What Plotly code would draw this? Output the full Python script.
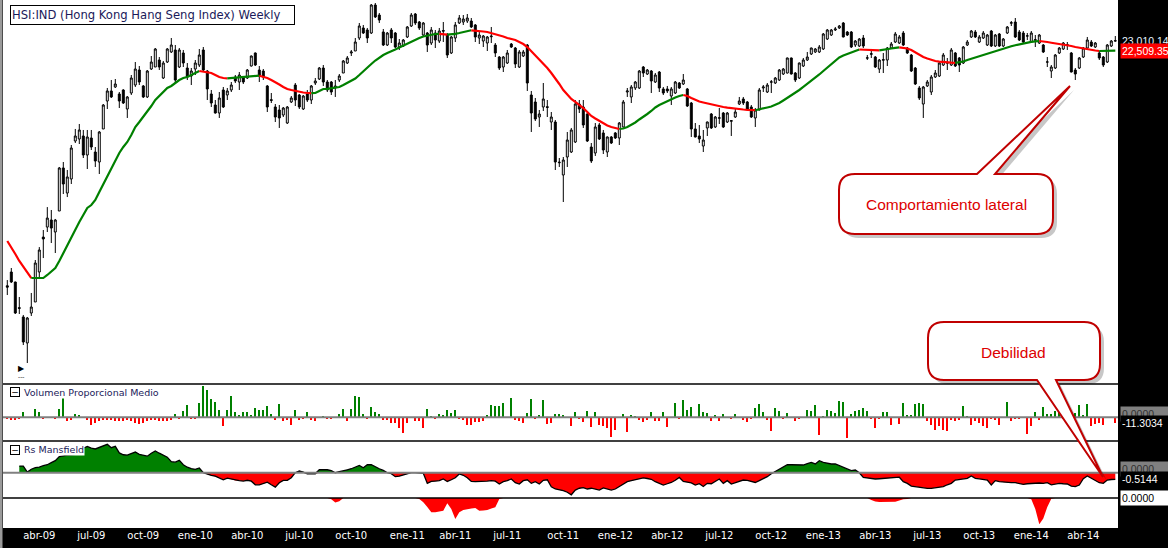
import math
import pandas as pd
import plotly.graph_objects as go
from plotly.subplots import make_subplots

# HSI weekly bars, first bar = week closing 2009-02-06
FIRST_BAR = "2009-02-06"

opens = [
    13420, 13833, 13532, 12790, 12530, 11833, 12640, 12950, 13833, 14938,
    15271, 15510, 15105, 15820, 17390, 16458, 16974, 18453, 18535, 18658,
    17894, 18576, 18012, 17620, 18948, 20151, 20600, 20782, 20464, 20645,
    19799, 20509, 20873, 21573, 20828, 20330, 21621, 21716, 22053, 21197,
    21956, 22445, 22544, 21716, 22396, 21668, 21290, 21621, 21812, 22544,
    21526, 20464, 19974, 19626, 20645, 20419, 20645, 21243, 21011, 21197,
    21197, 21764, 22396, 21573, 21526, 20828, 20210, 19887, 19756, 19540,
    19199, 20107, 20873, 20419, 19799, 20464, 20195, 20965, 21150, 21668,
    21011, 21011, 20736, 21104, 21431, 21908, 22396, 22494, 23147, 23662,
    23558, 23403, 24889, 24348, 23455, 22793, 23558, 23403, 22693, 22743,
    23198, 23766, 24401, 23976, 23300, 23403, 22893, 23403, 22994, 23530,
    23300, 22396, 23147, 23924, 23976, 24029, 24029, 23819, 23147, 22994,
    22893, 23210, 22793, 22199, 21716, 21908, 22843, 22643, 21716, 22248,
    22793, 20419, 20107, 19454, 19887, 19900, 19241, 19241, 17590, 17124,
    17815, 18012, 18413, 20018, 19887, 19583, 18211, 17973, 19115, 18782,
    18012, 18617, 18782, 18576, 19031, 20554, 20330, 20736, 20736, 21716,
    21384, 21526, 21011, 21478, 20691, 20691, 20374, 20509, 20965, 20919,
    20691, 20062, 18948, 18658, 18251, 18990, 19583, 19031, 19400, 19626,
    19241, 19270, 19454, 20018, 20240, 20107, 19887, 19412, 19756, 20736,
    20554, 21000, 20965, 21104, 21384, 21431, 22151, 21431, 21197, 21764,
    22053, 22346, 22445, 22445, 22594, 23096, 23300, 23558, 23662, 23924,
    23455, 23455, 22793, 22743, 23147, 22140, 22330, 22199, 21621, 22040,
    22053, 22643, 22944, 22893, 23403, 22643, 22297, 21668, 20736, 20018,
    20828, 20554, 21243, 21290, 21812, 21900, 21812, 22396, 22151, 21908,
    22793, 23198, 23455, 22944, 23147, 22793, 23506, 22743, 23352, 22743,
    23403, 23910, 23976, 23455, 23403, 23240, 22944, 23030, 22893, 22793,
    21950, 21526, 21668, 22396, 22594, 22780, 22396, 21573, 21668, 22199,
    22643, 22944, 22693, 22396, 22199, 21956, 22743, 22990,
]
highs = [
    13590, 13955, 13540, 13093, 12585, 12530, 13209, 14203, 14613, 15172,
    15957, 15855, 15545, 17428, 17620, 17313, 18292, 18948, 19157, 18906,
    18906, 18906, 18211, 18864, 20018, 20736, 21104, 21150, 20554, 20680,
    20374, 21337, 21956, 21764, 20873, 21573, 22248, 22643, 22199, 22005,
    22643, 23147, 22793, 22643, 22544, 21908, 21668, 22053, 22594, 22693,
    21573, 20645, 20195, 20554, 20782, 20736, 21011, 21337, 21478, 21290,
    21621, 22270, 22420, 21764, 21621, 20873, 20509, 20018, 19974, 19887,
    19930, 20374, 20965, 20464, 20419, 20645, 20873, 21197, 21716, 21812,
    21104, 21058, 21104, 21384, 22053, 22248, 22544, 23147, 23924, 23819,
    23662, 24944, 24999, 24455, 23610, 23455, 23662, 23455, 23096, 23096,
    23766, 24455, 24455, 24029, 23976, 23455, 23714, 23558, 23662, 23976,
    23403, 23249, 23976, 24348, 24348, 24401, 24188, 23871, 23455, 23300,
    23249, 23714, 22893, 22248, 22248, 22544, 22893, 22693, 22544, 22544,
    22843, 20600, 20285, 19756, 20965, 20195, 19669, 19326, 17776, 17815,
    18823, 18990, 20195, 20195, 20195, 19626, 18372, 19199, 19199, 18906,
    18640, 18658, 18823, 19241, 20195, 20736, 20873, 21058, 21573, 21764,
    21621, 21573, 21431, 21526, 20782, 20828, 20782, 21058, 21011, 21384,
    20736, 20107, 19199, 19115, 18906, 19260, 19626, 19497, 19843, 19669,
    19669, 19326, 19843, 20330, 20330, 20151, 19974, 19843, 20736, 20873,
    20965, 21104, 21243, 21621, 21668, 22170, 22170, 21478, 21930, 22151,
    22445, 22660, 22643, 22793, 23403, 23610, 23610, 23714, 23819, 23976,
    23506, 23506, 23045, 23147, 23300, 22297, 22594, 22248, 22102, 22396,
    22693, 22944, 23455, 23300, 23506, 22693, 22346, 21716, 20828, 20828,
    21104, 21337, 21573, 21956, 22396, 22151, 22643, 22445, 22199, 22743,
    23045, 23558, 23558, 23300, 23506, 23352, 23558, 23352, 23403, 23147,
    23766, 24029, 24188, 23558, 23506, 23403, 23506, 23300, 23352, 22843,
    22199, 21812, 22346, 22693, 22944, 22944, 22445, 21668, 22199, 22693,
    23198, 23045, 22944, 22494, 22248, 22843, 23045, 23249,
]
lows = [
    13150, 13503, 12612, 12612, 11780, 11323, 12557, 12950, 13651, 14264,
    15105, 14744, 14423, 15820, 16422, 16313, 16788, 18372, 18332, 17776,
    17351, 18092, 17428, 17161, 18948, 19799, 20285, 20736, 19843, 20018,
    19412, 20419, 20782, 20873, 20285, 20285, 21573, 21716, 21573, 21150,
    21908, 22396, 20965, 21668, 21716, 21104, 20873, 21337, 21716, 21526,
    20195, 19887, 19600, 19412, 19843, 20195, 20554, 20965, 20645, 20919,
    21150, 21740, 21764, 21011, 21104, 19669, 20062, 19241, 18990, 19454,
    19157, 20062, 19930, 19799, 19756, 20107, 20018, 20873, 21104, 20828,
    20554, 20419, 20330, 21011, 21431, 21860, 22248, 22494, 23045, 23352,
    22893, 23352, 24188, 23924, 22743, 22743, 22893, 22643, 22544, 22693,
    23147, 23714, 23819, 23558, 23249, 22445, 22793, 22643, 22893, 22944,
    22151, 22346, 22944, 23871, 23819, 23924, 23662, 22944, 22843, 22693,
    22494, 22893, 22199, 21573, 21478, 21860, 22643, 21668, 21668, 22199,
    20600, 18823, 19284, 19031, 19713, 19454, 18906, 17313, 17428, 16136,
    17428, 17973, 18372, 19626, 18990, 18413, 17582, 17855, 18494, 17933,
    17815, 18332, 18535, 18292, 19010, 20330, 20062, 20645, 20691, 21243,
    21337, 20509, 20965, 20554, 20419, 20509, 19974, 20464, 20691, 20873,
    19887, 18617, 18600, 18372, 18012, 18658, 18948, 18990, 19157, 18990,
    19199, 18658, 19412, 19974, 19974, 19756, 19412, 19031, 19740, 20554,
    20509, 20509, 20919, 21058, 21337, 21410, 21360, 21011, 21150, 21716,
    22005, 22297, 22396, 22396, 22544, 23045, 23249, 23506, 23610, 23180,
    23249, 22643, 22693, 22693, 22643, 22053, 22151, 21668, 21431, 21431,
    21764, 22594, 22893, 22843, 22743, 22346, 21478, 20873, 20195, 19412,
    20782, 20419, 21197, 21243, 21764, 21573, 21764, 21716, 21478, 21860,
    22743, 23147, 23147, 22893, 23096, 22743, 22693, 22693, 22693, 22693,
    23352, 23766, 23147, 22994, 22843, 23045, 22893, 22693, 22843, 22396,
    21716, 21197, 21621, 22346, 22544, 22544, 21460, 21104, 21621, 22151,
    22594, 22693, 22643, 22053, 21716, 21908, 22693, 22960,
]
closes = [
    13380, 13532, 12640, 12770, 11859, 12502, 12807, 14109, 14519, 14875,
    15576, 15237, 15510, 17390, 16788, 17049, 18171, 18658, 18906, 17894,
    18617, 18211, 17659, 18823, 19974, 20600, 20330, 20919, 20151, 20062,
    20330, 21197, 21621, 21011, 20330, 21526, 21956, 22594, 21716, 21908,
    22594, 22793, 21104, 22544, 21908, 21243, 21526, 21908, 22297, 21573,
    20691, 20062, 19626, 20285, 19887, 20600, 20873, 21058, 21337, 21011,
    21573, 22248, 21812, 21290, 21243, 19887, 20180, 19454, 19412, 19843,
    19887, 20285, 20195, 19887, 20374, 20195, 20828, 21058, 21668, 21011,
    20645, 20554, 20828, 21290, 22005, 22151, 22445, 22944, 23766, 23403,
    23147, 24889, 24241, 24082, 22793, 23403, 23147, 22693, 22893, 23045,
    23714, 24348, 23924, 23662, 23924, 22793, 23558, 23045, 23506, 23500,
    22297, 23198, 23819, 24188, 24135, 24188, 23714, 23198, 23300, 23249,
    23198, 23240, 22396, 21668, 22199, 22396, 22693, 21860, 22445, 22445,
    20965, 19626, 19369, 19583, 20240, 19870, 19454, 17620, 17610, 17698,
    18494, 18906, 20018, 19799, 19115, 18453, 17659, 19031, 18535, 18092,
    18617, 18372, 18576, 19199, 20107, 20600, 20782, 21011, 21526, 21431,
    21573, 21058, 21337, 20736, 20509, 20600, 20691, 21011, 20736, 21104,
    19930, 18948, 18617, 18535, 18494, 19241, 18990, 19454, 19420, 19031,
    19626, 19300, 19669, 20151, 20062, 19799, 19454, 19756, 20645, 20782,
    20873, 21020, 21197, 21573, 21621, 22151, 21384, 21104, 21908, 22053,
    22199, 22643, 22594, 22693, 23352, 23558, 23558, 23610, 23766, 23198,
    23300, 22693, 22994, 23096, 22743, 22160, 22360, 21716, 22053, 22070,
    22643, 22843, 23352, 23198, 22793, 22396, 21526, 20919, 20285, 20782,
    21011, 21243, 21431, 21908, 22297, 21920, 22544, 21764, 21812, 22693,
    22944, 23506, 23198, 23198, 23403, 23300, 22743, 23300, 22743, 23096,
    23714, 23940, 23198, 23045, 22944, 23260, 23403, 23060, 23300, 22445,
    21960, 21716, 22297, 22643, 22893, 22810, 21478, 21384, 22151, 22643,
    23045, 22743, 22893, 22151, 21812, 22793, 22994, 23010.14,
]
# moving average drawn over the candles
mov_avg = [
    14809, 14613, 14391, 14172, 13986, 13802, 13651, 13651, 13651, 13651,
    13742, 13863, 13955, 14172, 14423, 14678, 14938, 15206, 15442, 15680,
    15926, 16029, 16207, 16495, 16788, 17086, 17390, 17698, 17973, 18211,
    18413, 18699, 19031, 19241, 19454, 19669, 19930, 20195, 20374, 20554,
    20736, 20828, 20965, 21104, 21197, 21243, 21337, 21431, 21526, 21500,
    21478, 21431, 21337, 21243, 21197, 21180, 21197, 21206, 21215, 21230,
    21243, 21290, 21300, 21305, 21267, 21197, 21104, 21011, 20896, 20782,
    20691, 20645, 20600, 20554, 20532, 20509, 20500, 20509, 20600, 20691,
    20700, 20736, 20755, 20782, 20873, 20965, 21058, 21174, 21337, 21526,
    21692, 21860, 22029, 22175, 22297, 22396, 22470, 22569, 22668, 22768,
    22868, 22969, 23071, 23147, 23224, 23275, 23326, 23352, 23362, 23336,
    23321, 23331, 23362, 23403, 23455, 23506, 23542, 23532, 23506, 23481,
    23455, 23403, 23352, 23300, 23224, 23147, 23096, 23045, 22944, 22843,
    22693, 22494, 22297, 22102, 21860, 21668, 21431, 21197, 20919, 20645,
    20419, 20240, 20107, 19974, 19843, 19669, 19497, 19390, 19284, 19178,
    19094, 19031, 18990, 18948, 18969, 19031, 19115, 19220, 19348, 19454,
    19583, 19713, 19865, 19974, 20062, 20129, 20218, 20308, 20374, 20419,
    20374, 20285, 20195, 20129, 20085, 20040, 20009, 19974, 19930, 19887,
    19856, 19830, 19808, 19790, 19777, 19764, 19756, 19747, 19777, 19821,
    19865, 19908, 19974, 20062, 20173, 20285, 20396, 20509, 20645, 20782,
    20919, 21081, 21220, 21361, 21526, 21692, 21860, 22029, 22175, 22272,
    22346, 22420, 22494, 22569, 22559, 22544, 22534, 22529, 22524, 22544,
    22579, 22618, 22653, 22678, 22663, 22618, 22544, 22420, 22297, 22199,
    22126, 22053, 22005, 21971, 21946, 21932, 21922, 21917, 21932, 21980,
    22053, 22117, 22175, 22234, 22287, 22346, 22410, 22479, 22544, 22609,
    22668, 22728, 22783, 22833, 22878, 22919, 22954, 22979, 22994, 22979,
    22944, 22908, 22878, 22853, 22828, 22793, 22743, 22693, 22653, 22618,
    22589, 22564, 22519, 22494, 22499, 22502, 22504, 22509.35,
]
vol_prop = [
    -3.8, -5.6, -4.3, -3.2, 9.4, 0, 0, 16.4, 9.4, -1.9,
    0, 0, -3.2, 16.4, 37.0, -7.5, -4.3, 6.2, 5.1, 0,
    -4.3, -13.7, -10.7, -7.5, -4.3, -4.3, -4.3, -7.5, -7.5, -7.5,
    -4.3, -7.5, -10.7, -11.8, -10.7, -7.5, -5.6, -5.6, -7.5, -7.5,
    -7.5, -4.3, 6.2, -3.2, 12.6, 23.9, -3.2, -3.2, 26.9, 59.6,
    50.8, 34.4, 29.5, 13.2, -16.9, 14.5, 39.5, 10.7, 5.1, 10.7,
    9.4, 5.1, 18.2, 13.2, 13.2, 20.7, 7.0, -5.6, 25.8, -7.5,
    -5.6, -13.7, 14.5, -5.6, -3.2, 9.4, -4.3, -7.5, 0, 3.2,
    -3.2, -3.2, 0, 7.0, 15.6, -7.5, 15.6, 40.8, 37.6, 7.0,
    -1.9, 18.8, 9.4, 6.2, -5.6, -5.6, -10.7, -10.7, -20.7, -29.5,
    -10.7, 0, -6.2, -6.2, -20.1, 15.6, 2.4, -3.2, 6.2, 4.3,
    13.7, 7.5, 13.7, -2.4, -4.3, -13.7, -13.7, -8.1, -8.1, -6.2,
    4.3, 23.1, 21.2, 21.2, 26.9, 0, 36.3, -4.3, -6.2, -10.0,
    8.1, 34.4, -2.4, 4.3, 32.5, -11.8, -10.0, 6.2, 6.2, 4.3,
    0, -15.6, 10.0, -2.4, -8.1, 11.8, -17.5, 10.0, -13.7, -15.6,
    -20.1, -36.3, -23.1, 0, 6.2, -26.9, 4.3, 2.4, -4.3, -8.1,
    -4.3, 10.0, -6.2, -6.2, 10.0, -17.5, 0, 26.9, -2.4, 32.5,
    13.7, 19.4, 0, 25.0, 10.0, 8.1, -6.2, 4.3, -6.2, 6.2,
    0, -2.4, 6.2, 0, -4.3, -8.1, -2.4, 17.5, 25.0, 10.0,
    -4.3, -25.0, 17.5, 11.8, -2.4, 8.1, 0, -6.2, -2.4, 0,
    13.7, 11.8, 23.1, -32.5, 2.4, 13.7, 11.8, 8.1, 30.6, 28.8,
    -38.2, 6.2, 11.8, 13.7, 17.5, 11.8, -2.4, -19.4, -2.4, 10.0,
    10.0, -13.7, 0, -11.8, 26.9, 4.3, 3.8, 24.4, 26.9, 25.0,
    -7.5, -13.7, -23.1, -16.9, -23.1, -25.0, -4.3, -7.5, -4.3, 20.7,
    3.2, -13.7, -7.5, -10.7, -16.9, -20.1, -3.2, -4.3, -13.7, 0,
    28.2, -7.5, -3.2, -1.9, 0, -31.4, -16.9, 9.4, -4.3, 18.8,
    6.2, 6.2, 11.3, 17.5, -3.2, 0, 9.4, 8.1, 23.1, 5.1,
    24.4, -16.9, -12.6, -10.7, -13.7, 0, 0, -11.3034,
]
rs_mansfield = [
    None, None, None, 0.52, 0.52, 0.05, 0.27, 0.39, 0.44, 0.55,
    0.62, 0.78, 0.94, 1.25, 1.33, 1.37, 1.39, 1.43, 1.64, 1.91,
    2.05, 1.91, 1.85, 1.95, 2.11, 2.21, 1.95, 2.05, 1.54, 1.40,
    1.37, 1.52, 1.61, 1.43, 1.33, 1.29, 1.52, 1.69, 1.52, 1.35,
    1.21, 0.86, 0.82, 0.96, 0.62, 0.43, 0.31, 0.26, 0.37, 0.0,
    -0.12, -0.20, -0.26, -0.39, -0.55, -0.43, -0.51, -0.60, -0.62, -0.65,
    -0.59, -0.66, -0.94, -0.94, -0.86, -0.74, -0.94, -1.12, -0.78, -0.60,
    -0.60, -0.39, 0.0, 0.13, 0.04, -0.08, -0.08, -0.08, 0.23, 0.23,
    0.23, 0.16, 0.0, 0.08, 0.18, 0.23, 0.31, 0.43, 0.57, 0.39,
    0.62, 0.62, 0.44, 0.31, 0.18, 0.0, -0.08, -0.31, -0.27, -0.16,
    -0.05, 0.0, 0.0, -0.05, -0.05, -0.83, -0.68, -0.65, -0.62, -0.49,
    -0.68, -0.55, -0.39, -0.10, -0.20, -0.39, -0.68, -0.70, -0.70, -0.70,
    -0.65, -0.62, -0.66, -0.88, -0.70, -0.62, -0.49, -0.78, -0.88, -0.62,
    -0.55, -0.83, -0.70, -0.88, -0.59, -0.55, -1.09, -1.27, -1.33, -1.40,
    -1.52, -1.72, -1.35, -1.21, -1.17, -1.27, -1.21, -1.29, -1.35, -1.19,
    -1.29, -1.35, -1.27, -1.09, -0.88, -0.70, -0.62, -0.55, -0.49, -0.41,
    -0.45, -0.51, -0.70, -0.82, -0.96, -0.86, -0.76, -0.59, -0.37, -0.68,
    -0.74, -0.80, -0.96, -0.86, -1.07, -0.83, -0.86, -0.70, -0.49, -0.83,
    -0.62, -0.88, -0.78, -0.66, -0.57, -0.60, -0.66, -0.76, -0.62, -0.49,
    -0.31, -0.08, 0.10, 0.29, 0.47, 0.62, 0.62, 0.60, 0.60, 0.60,
    0.70, 0.80, 0.68, 0.94, 0.80, 0.74, 0.68, 0.68, 0.55, 0.47,
    0.31, 0.16, 0.21, 0.0, -0.37, -0.41, -0.44, -0.49, -0.47, -0.44,
    -0.41, -0.37, -0.39, -0.35, -0.70, -0.83, -1.04, -1.09, -1.15, -1.19,
    -1.22, -1.22, -1.17, -1.09, -1.09, -0.94, -0.83, -0.57, -0.52, -0.47,
    -0.44, -0.26, -0.44, -0.48, -0.52, -0.57, -0.96, -0.62, -0.70, -0.74,
    -0.78, -0.78, -0.78, -0.83, -0.91, -0.86, -0.83, -0.78, -0.80, -0.83,
    -0.78, -0.94, -0.90, -0.83, -0.86, -0.88, -1.05, -1.09, -0.96, -0.47,
    -0.26, -0.43, -0.59, -0.78, -0.83, -0.57, -0.53, -0.5144,
]
# lower strip under Rs Mansfield (only dips below zero)
rs_weak = (
    [0.0] * 81 + [-0.10, -0.35, -0.25] + [0.0] * 19
    + [-0.08, -0.34, -0.70, -1.12, -1.12, -1.05, -0.99, -0.41, -0.86, -1.64,
       -1.12, -0.94, -0.86, -0.82, -0.78, -0.99, -0.98, -0.94, -0.82, -0.73,
       -0.08]
    + [0.0] * 92
    + [-0.16, -0.27, -0.31, -0.31, -0.31, -0.27, -0.29, -0.20, -0.10, -0.08]
    + [0.0] * 30
    + [-0.10, -0.85, -2.05, -1.60, -0.70, -0.05]
    + [0.0] * 16
)

MESES = {1: "ene", 4: "abr", 7: "jul", 10: "oct"}

GREEN = "#008000"
RED = "#ff0000"
NAVY = "#1a1a5a"
FONT = "DejaVu Sans"
NUM_FONT = "Liberation Sans"

# page geometry in px
W, H = 1168, 548
ML, MR, MT, MB = 3, 50, 0, 20
PW, PH = W - ML - MR, H - MT - MB


def px_x(px):
    return (px - ML) / PW


def px_y(py):
    return 1 - (py - MT) / PH


def ma_segments(dates, values):
    # green while the average rises, red while it falls
    cols = [RED if values[1] < values[0] else GREEN]
    for k in range(1, len(values)):
        cols.append(GREEN if values[k] >= values[k - 1] else RED)
    segs = []
    start = 0
    for k in range(1, len(values) + 1):
        if k == len(values) or cols[k] != cols[start]:
            lo = max(start - 1, 0)
            segs.append((dates[lo:k], values[lo:k], cols[start]))
            start = k
    return segs


def bubble_path(x0, y0, x1, y1, r, b0, tip, b1, top_tail, dx=0, dy=0):
    def P(x, y):
        return f"{px_x(x + dx):.5f},{px_y(y + dy):.5f}"

    s = f"M{P(x0 + r, y0)}"
    if top_tail:
        s += f" L{P(b0, y0)} L{P(*tip)} L{P(b1, y0)}"
    s += f" L{P(x1 - r, y0)} Q{P(x1, y0)} {P(x1, y0 + r)}"
    s += f" L{P(x1, y1 - r)} Q{P(x1, y1)} {P(x1 - r, y1)}"
    if not top_tail:
        s += f" L{P(b1, y1)} L{P(*tip)} L{P(b0, y1)}"
    s += f" L{P(x0 + r, y1)} Q{P(x0, y1)} {P(x0, y1 - r)}"
    s += f" L{P(x0, y0 + r)} Q{P(x0, y0)} {P(x0 + r, y0)} Z"
    return s


def make_chart():
    n = len(closes)
    dates = pd.date_range(FIRST_BAR, periods=n, freq="7D")
    week = pd.Timedelta(days=7)

    fig = make_subplots(rows=4, cols=1, shared_xaxes=True, vertical_spacing=0,
                        row_heights=[384, 57, 57, 30])

    fig.add_trace(go.Candlestick(
        x=dates, open=opens, high=highs, low=lows, close=closes,
        increasing=dict(line=dict(color="black", width=1), fillcolor="white"),
        decreasing=dict(line=dict(color="black", width=1), fillcolor="black"),
        whiskerwidth=0, hoverinfo="skip", showlegend=False), row=1, col=1)

    for xs, ys, c in ma_segments(dates, mov_avg):
        fig.add_trace(go.Scatter(x=xs, y=ys, mode="lines",
                                 line=dict(color=c, width=2.2),
                                 hoverinfo="skip", showlegend=False), row=1, col=1)

    fig.add_trace(go.Bar(x=dates, y=vol_prop,
                         marker=dict(color=[GREEN if v > 0 else RED for v in vol_prop],
                                     line=dict(width=0)),
                         width=week.total_seconds() * 1000 * 0.55,
                         hoverinfo="skip", showlegend=False), row=2, col=1)

    rs_pos = [None if v is None else max(v, 0) for v in rs_mansfield]
    rs_neg = [None if v is None else min(v, 0) for v in rs_mansfield]
    fig.add_trace(go.Scatter(x=dates, y=rs_pos, mode="lines", fill="tozeroy",
                             fillcolor=GREEN, line=dict(width=0, color=GREEN),
                             hoverinfo="skip", showlegend=False), row=3, col=1)
    fig.add_trace(go.Scatter(x=dates, y=rs_neg, mode="lines", fill="tozeroy",
                             fillcolor=RED, line=dict(width=0, color=RED),
                             hoverinfo="skip", showlegend=False), row=3, col=1)
    fig.add_trace(go.Scatter(x=dates, y=rs_mansfield, mode="lines",
                             line=dict(color="black", width=1.3),
                             hoverinfo="skip", showlegend=False), row=3, col=1)

    fig.add_trace(go.Scatter(x=dates, y=rs_weak, mode="lines", fill="tozeroy",
                             fillcolor=RED, line=dict(width=0, color=RED),
                             hoverinfo="skip", showlegend=False), row=4, col=1)

    # x axis: quarter labels in spanish on the first bar of the month
    tickvals, ticktext = [], []
    for k, d in enumerate(dates):
        if d.month in MESES and (k == 0 or dates[k - 1].month != d.month):
            tickvals.append(d)
            ticktext.append(f"{MESES[d.month]}-{d.year % 100:02d}")

    fig.update_xaxes(showgrid=False, zeroline=False, showline=False, ticks="",
                     showticklabels=False, rangeslider_visible=False,
                     range=[dates[0] - 1.075 * week, dates[0] + 277.675 * week])
    fig.update_xaxes(showticklabels=True, tickvals=tickvals, ticktext=ticktext,
                     tickfont=dict(family=FONT, size=10, color="white"),
                     row=4, col=1)
    fig.update_yaxes(showgrid=False, zeroline=False, showline=False,
                     showticklabels=False, ticks="")
    fig.update_yaxes(type="log", range=[math.log10(10812), math.log10(25165)],
                     row=1, col=1)
    fig.update_yaxes(range=[-44.6, 62.6], row=2, col=1)
    fig.update_yaxes(range=[-1.97, 2.47], row=3, col=1)
    fig.update_yaxes(range=[-2.34, 0], row=4, col=1)

    shapes = []
    for yref in ("y2", "y3"):
        shapes.append(dict(type="line", xref="paper", x0=0, x1=1, yref=yref,
                           y0=0, y1=0, line=dict(color="#808080", width=2)))
    for py in (384, 441, 498):
        shapes.append(dict(type="line", xref="paper", x0=0, x1=1, yref="paper",
                           y0=px_y(py), y1=px_y(py), line=dict(color="black", width=1.3)))
    # thin grey frame on the left edge
    shapes.append(dict(type="rect", xref="paper", yref="paper", x0=px_x(0), x1=px_x(2.5),
                       y0=px_y(548), y1=px_y(0), fillcolor="#9a9a9a", line=dict(width=0)))

    callouts = [
        (839, 174, 1053, 234, 977, (1070, 86), 995, True),
        (928, 322, 1100, 380, 1037, (1103, 477), 1056, False),
    ]
    for x0, y0, x1, y1, b0, tip, b1, top in callouts:
        shapes.append(dict(type="path", xref="paper", yref="paper",
                           path=bubble_path(x0, y0, x1, y1, 16, b0, tip, b1, top, 4, 4),
                           fillcolor="rgba(0,0,0,0.22)", line=dict(width=0)))
        shapes.append(dict(type="path", xref="paper", yref="paper",
                           path=bubble_path(x0, y0, x1, y1, 16, b0, tip, b1, top),
                           fillcolor="white", line=dict(color="#c00000", width=2)))

    ann = []
    ann.append(dict(text="HSI:IND (Hong Kong Hang Seng Index) Weekly",
                    xref="paper", yref="paper", x=px_x(10), y=px_y(4.5),
                    xanchor="left", yanchor="top", showarrow=False, align="left",
                    width=281, height=16, bgcolor="white", bordercolor="black",
                    borderwidth=1, borderpad=1,
                    font=dict(family=FONT, size=11.6, color=NAVY)))
    # indicator titles sit on a white patch, with a small collapse box in front
    for label, cy in (("Volumen Proporcional Medio", 392), ("Rs Mansfield", 449.5)):
        ann.append(dict(text=label, xref="paper", yref="paper", x=px_x(23), y=px_y(cy),
                        xanchor="left", yanchor="middle", showarrow=False,
                        bgcolor="white", borderpad=0,
                        font=dict(family=FONT, size=9.5, color=NAVY)))
        ann.append(dict(text="−", xref="paper", yref="paper", x=px_x(15), y=px_y(cy),
                        xanchor="center", yanchor="middle", showarrow=False,
                        width=8, height=8, bgcolor="white", bordercolor="black",
                        borderwidth=1, borderpad=0,
                        font=dict(family=FONT, size=9, color="black")))
    ann.append(dict(text="▶", xref="paper", yref="paper", x=px_x(21), y=px_y(368),
                    xanchor="center", yanchor="middle", showarrow=False,
                    font=dict(family=FONT, size=8, color="black")))
    ann.append(dict(text="---", xref="paper", yref="paper", x=px_x(21), y=px_y(376),
                    xanchor="center", yanchor="middle", showarrow=False,
                    font=dict(family=FONT, size=6, color="black")))

    def side_label(text, y, yref, bg, fg, yshift=0):
        return dict(text=text, xref="paper", x=px_x(1120), xanchor="left",
                    y=y, yref=yref, yanchor="middle", yshift=yshift,
                    showarrow=False, bgcolor=bg, borderpad=1, width=47, align="left",
                    font=dict(family=NUM_FONT, size=10.5, color=fg))

    ann.append(side_label(f"{closes[-1]:,.2f}", math.log10(closes[-1]), "y",
                          "black", "#e4f4ff"))
    ann.append(side_label(f"{mov_avg[-1]:,.2f}", math.log10(mov_avg[-1]), "y",
                          RED, "white"))
    ann.append(side_label("0.0000", 0, "y2", "#808080", "#303030", yshift=3))
    ann.append(side_label(f"{vol_prop[-1]:.4f}", vol_prop[-1], "y2", "black", "white"))
    ann.append(side_label("0.0000", 0, "y3", "#808080", "#303030", yshift=3.5))
    ann.append(side_label(f"{rs_mansfield[-1]:.4f}", rs_mansfield[-1], "y3",
                          "black", "white"))
    ann.append(side_label("0.0000", 0, "y4", "white", "black"))

    for text, cx, cy in (("Comportamiento lateral", 946, 204), ("Debilidad", 1013, 352)):
        ann.append(dict(text=text, xref="paper", yref="paper", x=px_x(cx), y=px_y(cy),
                        xanchor="center", yanchor="middle", showarrow=False,
                        font=dict(family="Liberation Sans", size=15.5, color="#dd0000")))

    fig.update_layout(width=W, height=H, margin=dict(l=ML, r=MR, t=MT, b=MB),
                      paper_bgcolor="black", plot_bgcolor="white",
                      showlegend=False, bargap=0, shapes=shapes, annotations=ann)
    return fig


if __name__ == "__main__":
    fig = make_chart()
    # the page is photographed from its corner: drop the default body margin
    fig.write_html("out.html", config={"displayModeBar": False},
                   post_script="document.body.style.margin='0';"
                               "document.body.style.overflow='hidden';")
